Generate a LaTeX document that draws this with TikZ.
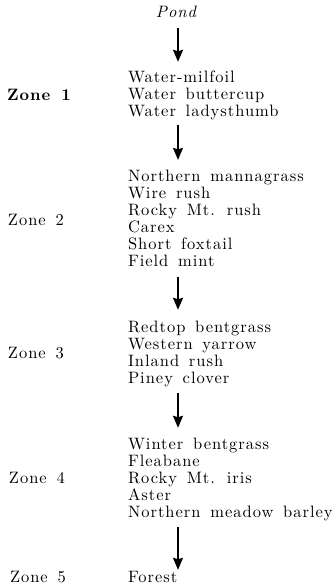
\documentclass[tikz,border=0pt]{standalone}
\usepackage{fontspec}
\setmainfont{lmroman10-regular.otf}[BoldFont=lmroman10-bold.otf, ItalicFont=lmroman10-italic.otf, BoldItalicFont=lmroman10-bolditalic.otf, LetterSpace=6,WordSpace=1.5]
\usetikzlibrary{arrows.meta}
\tikzset{
  every node/.style={inner sep=0pt, outer sep=0pt},
  txt/.style={font=\fontsize{16.5}{17}\selectfont, align=left, anchor=west},
  zonelbl/.style={font=\fontsize{16.5}{17}\selectfont, anchor=west},
  zonebold/.style={font=\fontsize{16.5}{17}\selectfont\bfseries, anchor=west},
  pondlbl/.style={font=\fontsize{16.5}{17}\selectfont\itshape},
  arr/.style={line width=1.6pt, -{Stealth[length=12pt,width=10pt,inset=1.5pt]}},
}
\begin{document}
\begin{tikzpicture}[x=1pt,y=-1pt]
\useasboundingbox (0,0) rectangle (336,587);
\coordinate (ax) at (178,0);
\node[pondlbl] (pond) at (176,12) {Pond};
\node[txt] (z1) at (128,95) {Water-milfoil\\Water buttercup\\Water ladysthumb};
\node[txt] (z2) at (128,218.5) {Northern mannagrass\\Wire rush\\Rocky Mt. rush\\Carex\\Short foxtail\\Field mint};
\node[txt] (z3) at (128,354) {Redtop bentgrass\\Western yarrow\\Inland rush\\Piney clover};
\node[txt] (z4) at (128,479.5) {Winter bentgrass\\Fleabane\\Rocky Mt. iris\\Aster\\Northern meadow barley};
\node[txt] (z5) at (128,577) {Forest};
\node[zonebold] (l1) at (7,95) {Zone 1};
\node[zonelbl] (l2) at (8,220) {Zone 2};
\node[zonelbl] (l3) at (8,353) {Zone 3};
\node[zonelbl] (l4) at (9,478) {Zone 4};
\node[zonelbl] (l5) at (10,577) {Zone 5};
\draw[arr, shorten <=9.7pt, shorten >=8.7pt] (pond.south -| ax) -- (z1.north -| ax);
\draw[arr, shorten <=5.7pt, shorten >=10.3pt] (z1.south -| ax) -- (z2.north -| ax);
\draw[arr, shorten <=10.6pt, shorten >=11.3pt] (z2.south -| ax) -- (z3.north -| ax);
\draw[arr, shorten <=6.3pt, shorten >=10.3pt] (z3.south -| ax) -- (z4.north -| ax);
\draw[arr, shorten <=6.3pt, shorten >=1.5pt] (z4.south -| ax) -- (z5.north -| ax);
\end{tikzpicture}
\end{document}
